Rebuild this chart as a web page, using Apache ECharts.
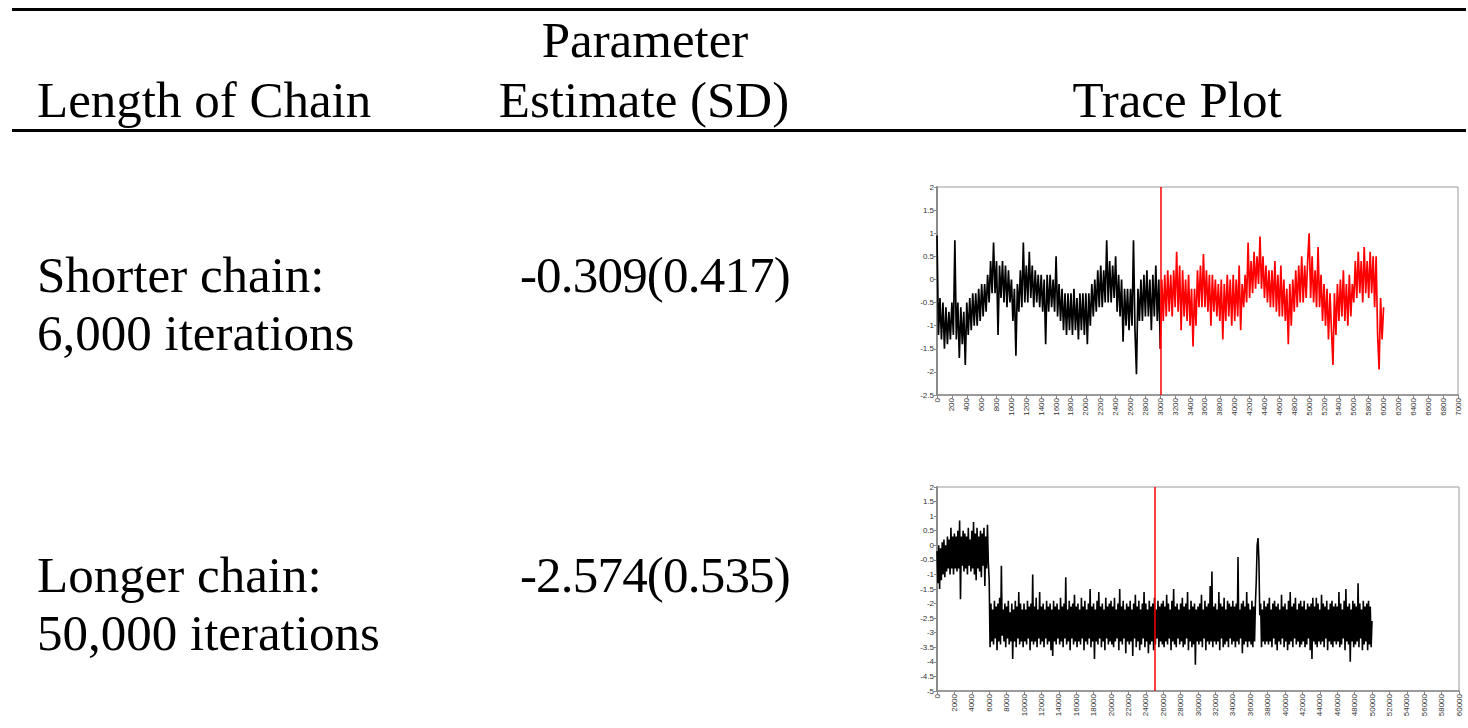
<!DOCTYPE html>
<html>
<head>
<meta charset="utf-8">
<script src="https://cdn.jsdelivr.net/npm/echarts@6/dist/echarts.min.js"></script>
<style>
  html, body { margin:0; padding:0; background:#fff; }
  body { width:1468px; height:728px; position:relative; overflow:hidden; }
  #chart { position:absolute; left:0; top:0; width:1468px; height:728px; }
  .t { position:absolute; font-family:'Liberation Serif','DejaVu Serif',serif; font-size:51px; line-height:51px; color:#000; white-space:nowrap; }
  .c { transform:translateX(-50%); }
  .rule { position:absolute; left:12px; width:1454px; height:3px; background:#000; }
</style>
</head>
<body>
<div id="chart"></div>
<div class="rule" style="top:8px"></div>
<div class="rule" style="top:129px"></div>
<div id="labels"></div>
<script>
// ---------- table text ----------
const headers = ["Length of Chain", "Parameter", "Estimate (SD)", "Trace Plot"];
const rowNames = [["Shorter chain:", "6,000 iterations"], ["Longer chain:", "50,000 iterations"]];
const estimates = ["-0.309(0.417)", "-2.574(0.535)"];

// ---------- trace 1: shorter chain (6,000 iterations), values every 20 iterations ----------
const step1 = 20;
const burnIn1 = 3000;
const xTicks1 = { min: 0, max: 7000, interval: 200 };
const yTicks1 = { min: -2.5, max: 2, interval: 0.5 };
const shortFirstHalf = [
  0.95, -1.2, -0.4, -1.3, -0.5, -1.5, -0.6, -1.4, -0.7, -1.3,
  -0.5, -1.2, 0.85, -1.3, -0.5, -1.7, -0.6, -1.4, -0.7, -1.85,
  -0.5, -1.2, -0.4, -1.1, -0.3, -1.0, -0.3, -1.0, -0.2, -0.9,
  -0.1, -0.8, -0.1, -0.7, 0.1, -0.5, 0.4, -0.3, 0.8, -0.3,
  0.4, -1.2, 0.3, -0.4, 0.4, -0.5, 0.3, -0.6, 0.2, -0.5,
  0.0, -0.9, -0.2, -1.65, -0.1, -0.7, 0.2, -0.6, 0.8, -0.5,
  0.3, -0.5, 0.6, -0.4, 0.3, -0.6, 0.2, -0.5, 0.1, -0.6,
  0.1, -0.7, 0.0, -1.4, 0.1, -0.7, 0.1, -0.6, 0.0, -0.7,
  0.5, -0.8, -0.1, -0.9, -0.2, -1.1, -0.3, -1.2, -0.3, -1.1,
  -0.3, -1.2, -0.2, -1.1, -0.4, -1.3, -0.3, -1.1, -0.3, -1.2,
  -0.3, -1.4, -0.3, -1.0, -0.1, -0.8, 0.0, -0.7, 0.2, -0.6,
  0.3, -0.6, 0.2, -0.5, 0.85, -0.5, 0.4, -0.5, 0.3, -0.4,
  0.5, -0.7, 0.1, -0.8, 0.0, -1.35, -0.2, -1.0, -0.2, -1.1,
  -0.2, -1.0, 0.85, -1.1, -2.05, -0.2, -0.9, 0.0, -0.9, 0.1,
  -0.8, 0.2, -0.8, 0.0, -1.1, 0.1, -0.8, 0.3, -0.9, 0.0
];
const shortSecondHalf = [
  -1.5, 0.0, -0.9, 0.1, -0.8, 0.2, -0.7, 0.1, -0.8, 0.2,
  -0.6, 0.6, -0.7, 0.3, -1.1, 0.2, -0.8, 0.0, -0.9, 0.1,
  -1.0, -0.2, -1.45, -0.2, -1.0, 0.2, -0.6, 0.3, -0.6, 0.55,
  -0.6, 0.2, -0.7, 0.1, -1.0, 0.1, -0.7, 0.0, -0.8, -0.1,
  -0.9, 0.0, -1.3, -0.1, -0.9, 0.1, -0.8, 0.0, -1.0, 0.1,
  -0.9, 0.0, -0.8, 0.3, -1.1, -0.1, -0.6, 0.1, -0.5, 0.8,
  -0.4, 0.4, -0.3, 0.6, -0.2, 0.5, -0.1, 0.93, -0.2, 0.5,
  -0.4, 0.3, -0.5, 0.2, -0.6, 0.2, -0.6, 0.4, -0.7, 0.1,
  -0.8, 0.3, -0.8, 0.0, -0.9, -0.2, -1.4, -0.1, -1.0, 0.0,
  -0.7, 0.2, -0.6, 0.3, -0.5, 0.5, -0.5, 0.3, -0.4, 0.4,
  1.0, -0.4, 0.5, -0.5, 0.2, -0.6, 0.7, -0.6, 0.1, -0.9,
  -0.1, -1.0, -0.2, -1.3, -0.3, -1.1, -1.85, -0.3, -1.2, -0.1,
  -0.9, 0.0, -0.8, 0.2, -0.9, -0.1, -1.0, 0.1, -0.8, -0.1,
  -0.5, 0.4, -0.4, 0.6, -0.3, 0.4, -0.5, 0.7, -0.3, 0.4,
  -0.4, 0.6, -0.3, 0.5, -0.6, 0.5, -1.2, -1.95, -0.4, -1.3,
  -0.6
];

// ---------- trace 2: longer chain (50,000 iterations), values every 100 iterations ----------
const step2 = 100;
const marker2 = 25000;
const xTicks2 = { min: 0, max: 60000, interval: 2000 };
const yTicks2 = { min: -5, max: 2, interval: 0.5 };
const longChain = [
  -0.2, -1.3, 0.0, -1.5, -0.1, -1.2, 0.1, -1.0, 0.2, -1.1, 0.0, -0.9, 0.3, -0.8, 0.2, -1.0, 0.6, -0.8, 0.3, -1.0,
  0.4, -0.8, 0.3, -0.9, 0.5, -0.8, 0.85, -1.85, 0.3, -0.7, 0.5, -0.9, 0.4, -0.8, 0.3, -1.0, 0.6, -0.7, 0.2, -0.9,
  0.5, -0.8, 0.8, -1.0, 0.4, -1.2, 0.6, -0.8, 0.3, -0.9, 0.5, -1.1, 0.4, -0.7, 0.6, -1.4, 0.3, -0.8, 0.7, -0.6,
  -1.2, -3.5, -2.0, -3.3, -2.2, -3.4, -1.9, -3.2, -2.1, -3.6, -2.0, -3.3, -1.8, -3.4, -0.7, -3.1, -2.2, -3.3, -2.0, -3.5,
  -2.1, -3.2, -1.9, -3.4, -2.3, -3.3, -2.0, -3.9, -2.2, -3.3, -1.9, -3.5, -2.1, -3.2, -1.6, -3.4, -2.0, -3.3, -2.2, -3.5,
  -2.0, -3.3, -2.2, -3.4, -1.9, -3.2, -2.1, -3.6, -2.0, -3.3, -1.0, -3.4, -2.1, -3.3, -1.8, -3.5, -2.2, -3.2, -1.6, -3.4,
  -2.1, -3.3, -2.0, -3.5, -2.2, -3.2, -1.9, -3.4, -2.1, -3.3, -2.0, -3.6, -2.2, -3.8, -1.9, -3.3, -2.1, -3.4, -2.0, -3.2,
  -2.2, -3.4, -1.8, -3.3, -2.1, -3.5, -2.0, -3.2, -1.1, -3.4, -2.2, -3.3, -1.9, -3.6, -2.1, -3.2, -2.0, -3.4, -1.7, -3.3,
  -2.1, -3.5, -2.0, -3.3, -2.2, -3.4, -1.8, -3.2, -2.1, -3.6, -1.9, -3.3, -2.2, -3.4, -2.0, -3.2, -1.5, -3.5, -2.1, -3.3,
  -2.0, -3.9, -2.2, -3.3, -1.9, -3.4, -1.6, -3.2, -2.1, -3.5, -2.0, -3.3, -2.2, -3.6, -1.8, -3.2, -2.1, -3.4, -2.0, -3.3,
  -1.9, -3.4, -2.1, -3.5, -1.8, -3.3, -2.2, -3.2, -2.0, -3.6, -1.5, -3.3, -2.1, -3.4, -1.9, -3.2, -2.2, -3.7, -2.0, -3.3,
  -2.1, -3.4, -1.9, -3.3, -2.2, -3.8, -2.0, -3.2, -1.7, -3.5, -2.1, -3.3, -1.9, -3.6, -2.2, -3.4, -2.0, -3.2, -1.6, -3.5,
  -2.0, -3.3, -2.2, -3.7, -1.9, -3.4, -2.1, -3.3, -2.0, -3.6, -1.8, -3.4, -2.2, -3.2, -1.9, -3.5, -2.1, -3.3, -2.0, -3.4,
  -1.9, -3.5, -2.1, -3.3, -1.7, -3.4, -2.0, -3.2, -2.2, -3.6, -1.9, -3.3, -1.5, -3.4, -2.1, -3.5, -2.0, -3.2, -2.2, -3.4,
  -2.0, -3.3, -1.8, -3.5, -2.1, -3.4, -2.0, -3.2, -1.6, -3.6, -2.2, -3.3, -1.9, -3.5, -2.1, -3.4, -2.0, -4.1, -2.2, -3.3,
  -2.1, -3.4, -2.0, -3.3, -1.7, -3.5, -2.2, -3.2, -1.9, -3.6, -2.1, -3.3, -2.0, -3.4, -1.4, -3.3, -0.9, -3.5, -2.1, -3.3,
  -2.0, -3.4, -2.2, -3.3, -1.6, -3.6, -2.0, -3.2, -2.1, -3.5, -1.8, -3.4, -2.2, -3.3, -1.9, -3.5, -2.0, -3.2, -2.1, -3.4,
  -1.9, -3.3, -2.1, -3.5, -2.0, -3.3, -0.4, -3.4, -2.2, -3.2, -2.0, -3.7, -1.9, -3.4, -2.1, -3.3, -1.6, -3.5, -2.0, -3.3,
  -2.2, -3.4, -1.9, -3.5, -2.1, -3.3, -2.0, -1.2, 0.0, 0.25, -0.5, -2.4, -2.0, -3.5, -2.2, -3.3, -1.9, -3.4, -2.1, -3.3,
  -2.0, -3.4, -1.8, -3.3, -2.2, -3.5, -2.0, -3.2, -1.9, -3.4, -2.1, -3.6, -2.0, -3.3, -2.2, -3.4, -1.7, -3.2, -2.1, -3.5,
  -2.0, -3.3, -2.2, -3.6, -1.9, -3.4, -1.6, -3.3, -2.1, -3.5, -2.0, -3.2, -1.8, -3.4, -2.2, -3.3, -2.0, -3.5, -1.9, -3.4,
  -2.1, -3.3, -1.9, -3.5, -2.2, -3.4, -2.0, -3.2, -2.1, -3.6, -2.0, -3.9, -1.8, -3.3, -2.1, -3.4, -1.8, -3.5, -2.0, -3.3,
  -2.2, -3.4, -1.7, -3.3, -2.0, -3.5, -2.1, -3.2, -1.9, -3.6, -2.2, -3.3, -2.0, -3.4, -1.9, -3.5, -2.1, -3.3, -2.0, -3.4,
  -2.1, -3.3, -1.6, -3.5, -2.0, -3.4, -2.2, -3.2, -1.9, -3.6, -1.5, -3.3, -2.1, -3.4, -2.0, -4.0, -2.2, -3.3, -1.9, -3.5,
  -2.0, -3.4, -2.1, -3.3, -1.3, -3.5, -2.0, -3.2, -2.2, -3.6, -1.9, -3.4, -2.1, -3.3, -2.0, -3.6, -1.9, -3.4, -2.1, -3.5,
  -2.6
];

// ---------- HTML table text ----------
(function () {
  const L = document.getElementById('labels');
  function add(text, style, cls) {
    const d = document.createElement('div');
    d.className = 't' + (cls ? ' ' + cls : '');
    d.textContent = text;
    Object.assign(d.style, style);
    L.appendChild(d);
  }
  add(headers[0], { left: '37px', top: '75px' });
  add(headers[1], { left: '645px', top: '15px' }, 'c');
  add(headers[2], { left: '644px', top: '75px' }, 'c');
  add(headers[3], { left: '1177px', top: '75px' }, 'c');
  const rowTops = [250, 550];
  rowNames.forEach((r, i) => {
    add(r[0], { left: '37px', top: rowTops[i] + 'px' });
    add(r[1], { left: '37px', top: (rowTops[i] + 58) + 'px' });
    add(estimates[i], { right: '678px', top: rowTops[i] + 'px', letterSpacing: '-0.8px' });
  });
})();

// ---------- ECharts ----------
const chart = echarts.init(document.getElementById('chart'), null, { renderer: 'svg', width: 1468, height: 728 });
const toPairs = (arr, step, offset) => arr.map((v, i) => [offset + i * step, v]);

const axisFont = { fontSize: 8, color: '#333', fontFamily: 'Liberation Sans, Arial, sans-serif' };
function xAx(g, t) {
  return {
    type: 'value', gridIndex: g, min: t.min, max: t.max, interval: t.interval,
    axisLine: { show: true, onZero: false, lineStyle: { color: '#8a8a8a', width: 1.5 } },
    axisTick: { show: true, length: 3, lineStyle: { color: '#8a8a8a' } },
    axisLabel: Object.assign({ rotate: 90, margin: 3, showMinLabel: true, showMaxLabel: true, hideOverlap: false,
      formatter: (v) => String(v) }, axisFont),
    splitLine: { show: false }
  };
}
function yAx(g, t) {
  return {
    type: 'value', gridIndex: g, min: t.min, max: t.max, interval: t.interval,
    axisLine: { show: true, onZero: false, lineStyle: { color: '#8a8a8a', width: 2 } },
    axisTick: { show: true, length: 3, lineStyle: { color: '#8a8a8a' } },
    axisLabel: Object.assign({ margin: 3, formatter: (v) => String(v) }, axisFont),
    splitLine: { show: false }
  };
}
const markRed = (x) => ({
  silent: true, symbol: 'none', label: { show: false },
  lineStyle: { color: '#ff0000', width: 1.5, type: 'solid' },
  data: [{ xAxis: x }], z: 10
});

chart.setOption({
  animation: false,
  grid: [
    { left: 937, top: 187, width: 521, height: 208, show: true, borderColor: '#9a9a9a', borderWidth: 1 },
    { left: 937, top: 487, width: 522, height: 204, show: true, borderColor: '#9a9a9a', borderWidth: 1 }
  ],
  xAxis: [xAx(0, xTicks1), xAx(1, xTicks2)],
  yAxis: [yAx(0, yTicks1), yAx(1, yTicks2)],
  series: [
    {
      type: 'line', xAxisIndex: 0, yAxisIndex: 0, showSymbol: false,
      data: toPairs(shortFirstHalf, step1, 0).concat([[burnIn1, shortSecondHalf[0]]]),
      lineStyle: { color: '#000', width: 1.7 }, itemStyle: { color: '#000' },
      markLine: markRed(burnIn1)
    },
    {
      type: 'line', xAxisIndex: 0, yAxisIndex: 0, showSymbol: false,
      data: toPairs(shortSecondHalf, step1, burnIn1),
      lineStyle: { color: '#ff0000', width: 1.7 }, itemStyle: { color: '#ff0000' }
    },
    {
      type: 'line', xAxisIndex: 1, yAxisIndex: 1, showSymbol: false,
      data: toPairs(longChain, step2, 0),
      lineStyle: { color: '#000', width: 1.6 }, itemStyle: { color: '#000' },
      markLine: markRed(marker2)
    }
  ]
});
</script>
</body>
</html>
